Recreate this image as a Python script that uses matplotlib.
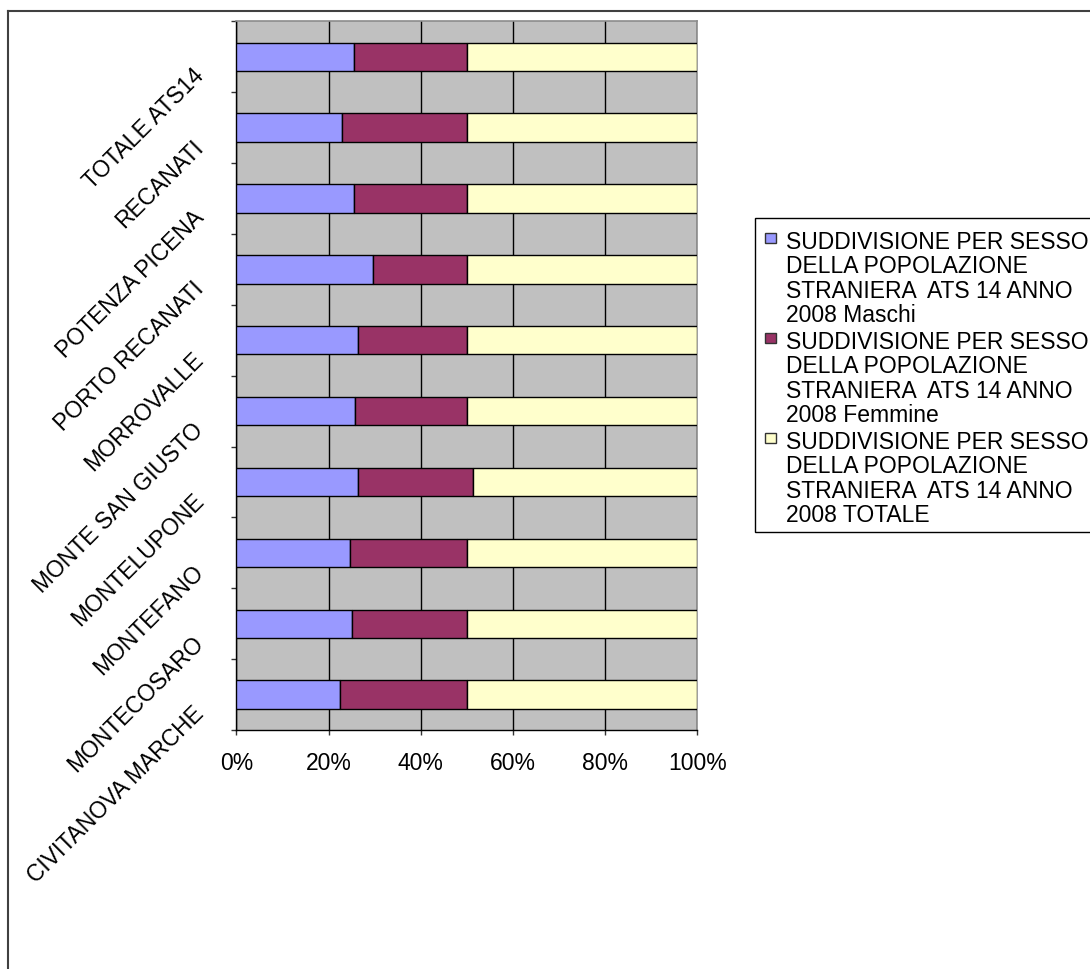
import matplotlib
matplotlib.use("Agg")
import matplotlib.pyplot as plt
import matplotlib.transforms as mtransforms
from matplotlib.patches import Rectangle
from matplotlib.lines import Line2D
import numpy as np

# Comuni dell'ATS 14, from bottom to top of the chart
comuni = ["CIVITANOVA MARCHE", "MONTECOSARO", "MONTEFANO", "MONTELUPONE",
          "MONTE SAN GIUSTO", "MORROVALLE", "PORTO RECANATI", "POTENZA PICENA",
          "RECANATI", "TOTALE ATS14"]

# Share of each series in the row total (percent)
maschi = [22.6, 25.0, 24.7, 26.5, 25.7, 26.5, 29.6, 25.5, 22.9, 25.5]
femmine = [27.4, 25.0, 25.3, 24.9, 24.3, 23.5, 20.4, 24.5, 27.1, 24.6]
totale = [50.0, 50.0, 50.0, 48.6, 50.0, 50.0, 50.0, 50.0, 50.0, 49.9]

serie = [
    "SUDDIVISIONE PER SESSO\nDELLA POPOLAZIONE\nSTRANIERA  ATS 14 ANNO\n2008 Maschi",
    "SUDDIVISIONE PER SESSO\nDELLA POPOLAZIONE\nSTRANIERA  ATS 14 ANNO\n2008 Femmine",
    "SUDDIVISIONE PER SESSO\nDELLA POPOLAZIONE\nSTRANIERA  ATS 14 ANNO\n2008 TOTALE",
]
colori = ["#9999FF", "#993366", "#FFFFCC"]

xticks = [0, 20, 40, 60, 80, 100]
xticklabels = [f"{v}%" for v in xticks]

FONT = "Liberation Sans"
FS = 16.5
plt.rcParams["font.family"] = [FONT, "DejaVu Sans"]

W, H = 1090, 970
fig = plt.figure(figsize=(W / 100, H / 100), dpi=100)


def fx(px):
    return px / W


def fy(py):
    return 1 - py / H


# outer chart-area border (top and left edges)
fig.add_artist(Line2D([fx(8), 1.0], [fy(12), fy(12)], color="#404040", lw=1.5,
                      transform=fig.transFigure))
fig.add_artist(Line2D([fx(8), fx(8)], [fy(12), 0.0], color="#404040", lw=1.5,
                      transform=fig.transFigure))

ax = fig.add_axes([fx(236.3), fy(731), (697.3 - 236.3) / W, (731 - 22.3) / H])
ax.set_facecolor("#C0C0C0")

pos = np.arange(len(comuni))
left = np.zeros(len(comuni))
for vals, col in zip([maschi, femmine, totale], colori):
    vals = np.asarray(vals)
    ax.barh(pos, vals, left=left, height=0.4, color=col, edgecolor="black",
            linewidth=1.0, zorder=3)
    left += vals

ax.set_xlim(0, 100)
ax.set_ylim(-0.5, len(comuni) - 0.5)

ax.set_axisbelow(True)
ax.xaxis.grid(True, color="black", linewidth=1.0)

for side in ("left", "bottom"):
    ax.spines[side].set_color("black")
    ax.spines[side].set_linewidth(1.0)
for side in ("top", "right"):
    ax.spines[side].set_color("#8C8C8C")
    ax.spines[side].set_linewidth(1.2)

ax.set_xticks(xticks, labels=xticklabels, fontsize=FS)
ax.tick_params(axis="x", direction="out", length=3.8, width=1.0, pad=11,
               color="#333333")

# category boundaries carry the tick marks, centers carry the labels
ax.set_yticks(np.arange(-0.5, len(comuni), 1.0), minor=True)
ax.tick_params(axis="y", which="minor", direction="out", length=3.8, width=1.0,
               color="#333333")
ax.set_yticks(pos, labels=comuni, fontsize=FS, rotation=45,
              rotation_mode="anchor", ha="right", va="center")
ax.tick_params(axis="y", which="major", length=0, pad=26)
shift = mtransforms.ScaledTranslation(0, -0.15, fig.dpi_scale_trans)
for lab in ax.get_yticklabels():
    lab.set_transform(lab.get_transform() + shift)

# legend box, drawn by hand so each swatch sits on the first line of its entry
fig.add_artist(Rectangle((fx(755), fy(533)), 1.0, (533 - 219) / H,
                         transform=fig.transFigure, facecolor="white",
                         edgecolor="black", linewidth=1.0))
first_top = 233
pitch = 100
for i, (lab, col) in enumerate(zip(serie, colori)):
    top = first_top + i * pitch
    fig.add_artist(Rectangle((fx(765), fy(top + 11)), 11 / W, 10 / H,
                             transform=fig.transFigure, facecolor=col,
                             edgecolor="#333333", linewidth=1.0))
    fig.text(fx(786), fy(top - 2), lab, fontsize=FS, ha="left", va="top",
             linespacing=1.08)

fig.savefig("out.png", dpi=100)
